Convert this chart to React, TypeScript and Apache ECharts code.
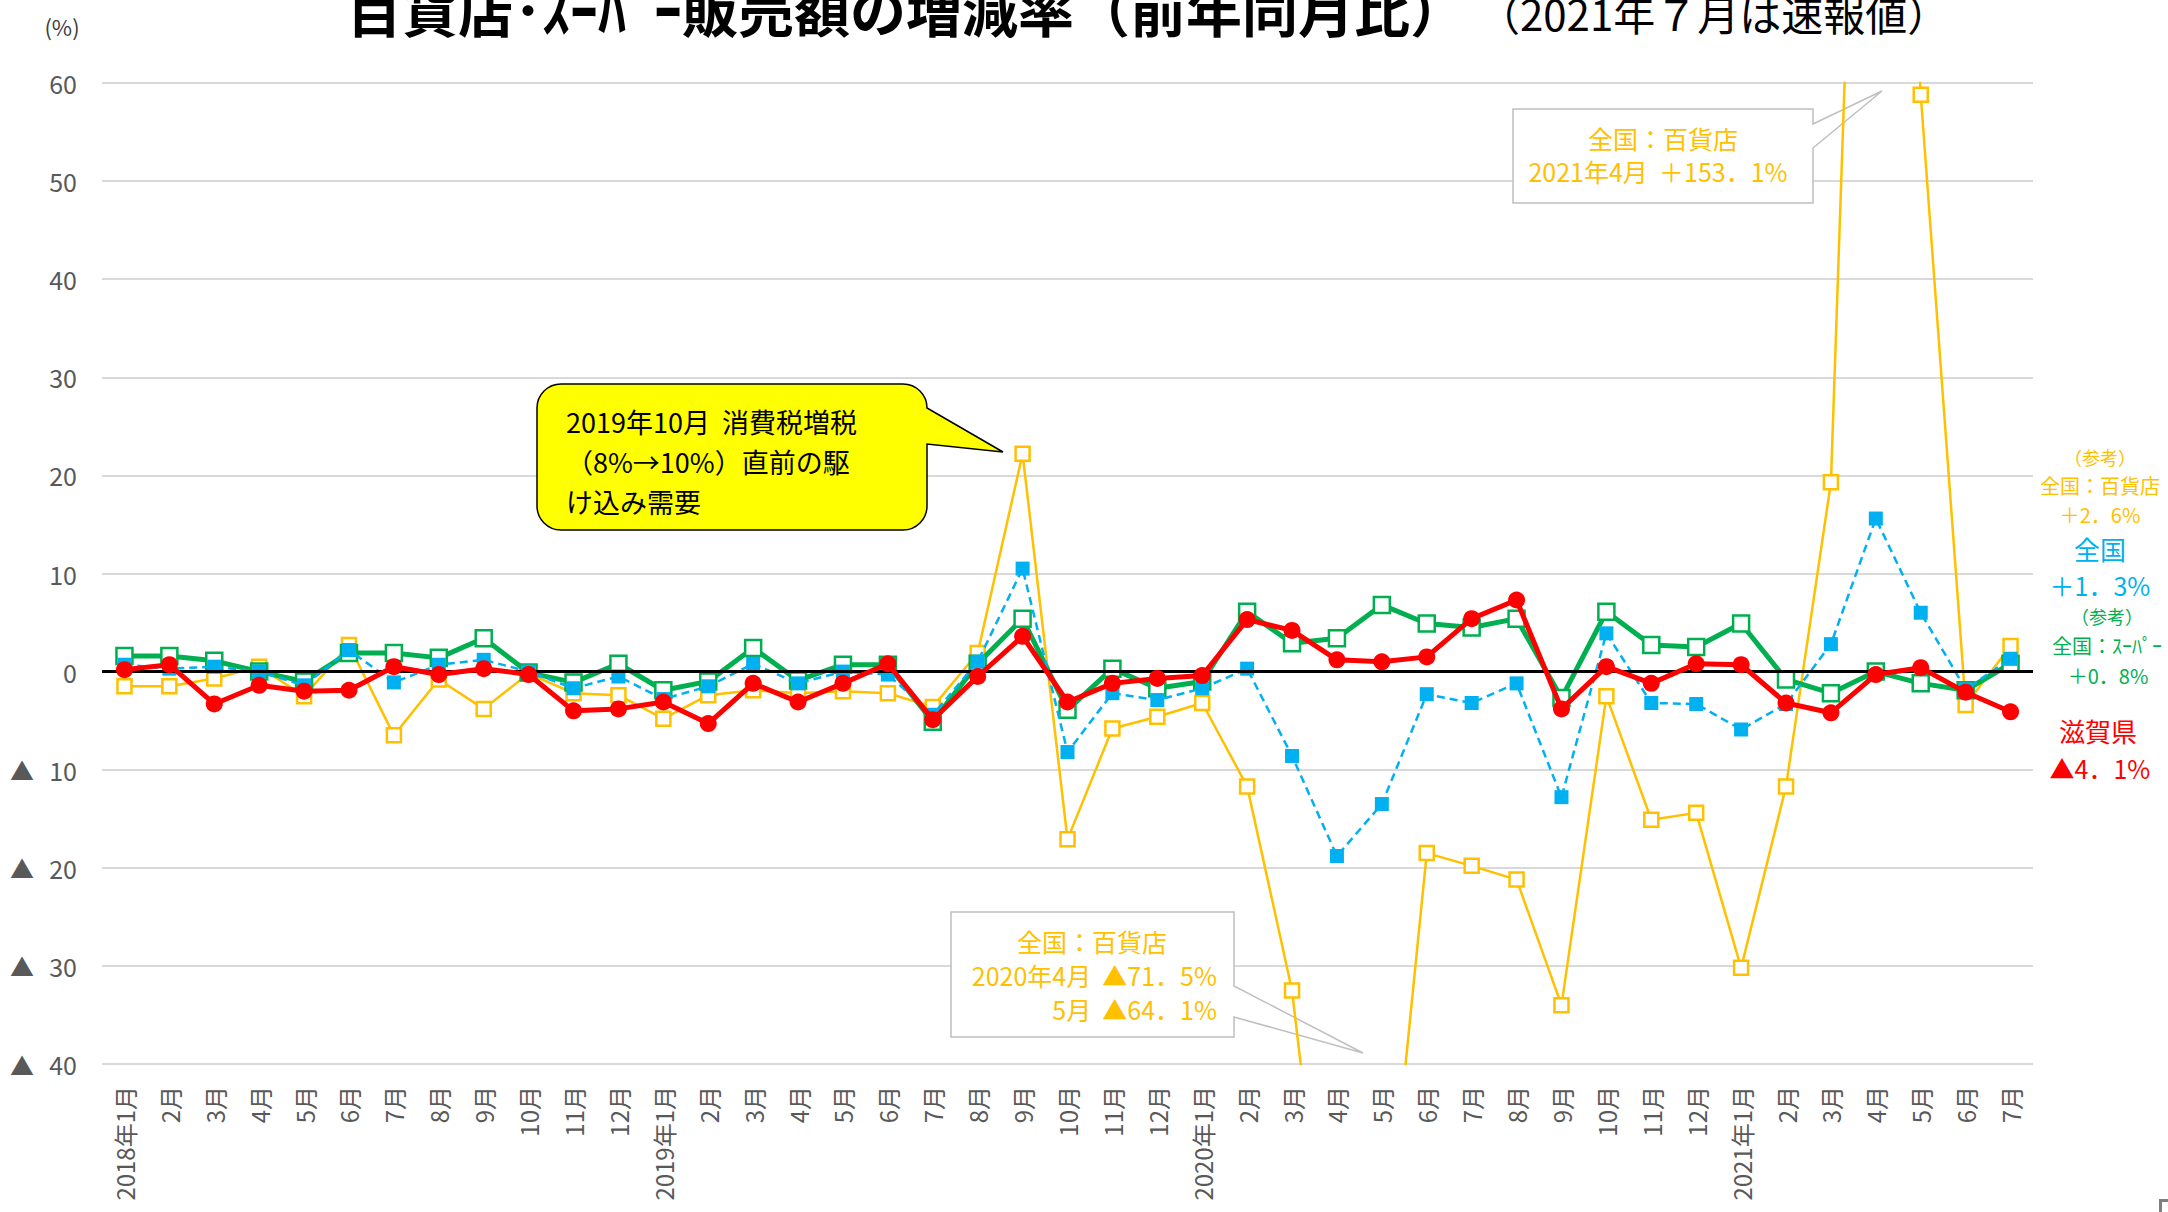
import React, { useEffect, useRef } from "react";
import * as echarts from "echarts";

// ---- data ----
const months = [
  "2018年1月", "2月", "3月", "4月", "5月", "6月", "7月", "8月", "9月", "10月", "11月", "12月",
  "2019年1月", "2月", "3月", "4月", "5月", "6月", "7月", "8月", "9月", "10月", "11月", "12月",
  "2020年1月", "2月", "3月", "4月", "5月", "6月", "7月", "8月", "9月", "10月", "11月", "12月",
  "2021年1月", "2月", "3月", "4月", "5月", "6月", "7月",
];

// 全国：百貨店 (参考)
const deptNational = [
  -1.5, -1.5, -0.7, 0.5, -2.5, 2.7, -6.5, -0.8, -3.8, -0.2, -2.2, -2.4,
  -4.8, -2.4, -1.9, -2.2, -2.0, -2.2, -3.6, 1.9, 22.2, -17.1, -5.8, -4.6,
  -3.2, -11.7, -32.5, -71.5, -64.1, -18.5, -19.8, -21.2, -34.0, -2.5, -15.1, -14.4,
  -30.2, -11.7, 19.3, 153.1, 58.8, -3.4, 2.6,
];

// 全国：スーパー (参考)
const superNational = [
  1.6, 1.6, 1.1, 0.0, -1.0, 1.9, 1.9, 1.4, 3.4, -0.1, -1.1, 0.8,
  -1.9, -1.0, 2.4, -0.9, 0.7, 0.7, -5.1, 0.8, 5.4, -3.9, 0.3, -1.7,
  -1.0, 6.1, 2.9, 3.4, 6.8, 4.9, 4.5, 5.4, -2.7, 6.1, 2.7, 2.5,
  4.9, -0.8, -2.2, 0.0, -1.2, -1.9, 0.8,
];

// 全国 (百貨店・スーパー)
const national = [
  0.7, 0.3, 0.5, 0.0, -1.4, 2.2, -1.1, 0.7, 1.2, 0.0, -1.7, -0.5,
  -2.8, -1.5, 0.8, -1.2, 0.0, -0.3, -4.4, 1.0, 10.5, -8.2, -2.2, -2.9,
  -1.7, 0.3, -8.6, -18.8, -13.5, -2.3, -3.2, -1.2, -12.8, 3.9, -3.2, -3.3,
  -5.9, -3.3, 2.8, 15.6, 6.0, -1.8, 1.3,
];

// 滋賀県
const shiga = [
  0.2, 0.7, -3.3, -1.4, -2.0, -1.9, 0.5, -0.3, 0.3, -0.3, -4.0, -3.8,
  -3.1, -5.3, -1.2, -3.1, -1.2, 0.8, -4.9, -0.5, 3.6, -3.1, -1.2, -0.7,
  -0.4, 5.3, 4.2, 1.2, 1.0, 1.5, 5.4, 7.3, -3.8, 0.5, -1.2, 0.8,
  0.7, -3.2, -4.2, -0.3, 0.4, -2.1, -4.1,
];

const yMin = -40;
const yMax = 60;
const yStep = 10;

const ORANGE = "#FFC000";
const BLUE = "#00B0F0";
const GREEN = "#00B050";
const RED = "#FF0000";
const GRAY = "#595959";
const CJK = "'Noto Sans CJK JP', sans-serif";
const NARROW = "'Liberation Sans Narrow', 'Arial Narrow', 'Noto Sans CJK JP', sans-serif";

// callout outlines (SVG paths)
const dYellow =
  "M561 384 H903 A24 24 0 0 1 927 408 L1003 452 L927 444 V506 A24 24 0 0 1 903 530 H561 A24 24 0 0 1 537 506 V408 A24 24 0 0 1 561 384 Z";
const dTop = "M1513 109 H1813 V124 L1882 91 L1813 148 V203 H1513 Z";
const dBottom = "M951 912 H1234 V986 L1363 1053 L1234 1017 V1037 H951 Z";

echarts.graphic.registerShape("calloutYellow", echarts.graphic.extendPath(dYellow, {}));
echarts.graphic.registerShape("calloutTop", echarts.graphic.extendPath(dTop, {}));
echarts.graphic.registerShape("calloutBottom", echarts.graphic.extendPath(dBottom, {}));

function txt(
  text: string,
  x: number,
  y: number,
  size: number,
  color: string,
  align: string = "center",
  extra: any = {}
) {
  return {
    type: "text",
    x,
    y,
    z: 10,
    style: {
      text,
      fill: color,
      fontSize: size,
      fontFamily: CJK,
      align,
      textAlign: align,
      verticalAlign: "middle",
      textVerticalAlign: "middle",
      ...extra,
    },
  };
}

export default function App() {
  const ref = useRef<HTMLDivElement>(null);

  useEffect(() => {
    if (!ref.current) return;
    const chart = echarts.init(ref.current, null, { renderer: "svg" });

    const option: any = {
      animation: false,
      backgroundColor: "#fff",
      textStyle: { fontFamily: CJK },
      grid: { left: 102, right: 135, top: 83, bottom: 148, containLabel: false },
      xAxis: {
        type: "category",
        data: months,
        boundaryGap: true,
        axisLine: { show: false, onZero: false },
        axisTick: { show: false },
        splitLine: { show: false },
        axisLabel: {
          interval: 0,
          rotate: 90,
          margin: 22,
          fontSize: 24,
          color: GRAY,
          fontFamily: CJK,
        },
      },
      yAxis: {
        type: "value",
        min: yMin,
        max: yMax,
        interval: yStep,
        axisLine: { show: false },
        axisTick: { show: false },
        splitLine: { show: true, lineStyle: { color: "#D9D9D9", width: 2 } },
        axisLabel: {
          margin: 25,
          formatter: (v: number) =>
            v < 0 ? `{t|▲}{n|${Math.abs(v)}}` : `{n|${v}}`,
          rich: {
            t: { width: 27, align: "left", fontSize: 24, color: GRAY, fontFamily: CJK },
            n: { width: 40, align: "right", fontSize: 25, color: GRAY, fontFamily: NARROW },
          },
        },
      },
      series: [
        {
          name: "全国：百貨店",
          type: "line",
          data: deptNational,
          clip: true,
          symbol: "rect",
          symbolSize: 14,
          lineStyle: { color: ORANGE, width: 2.5 },
          itemStyle: { color: "#fff", borderColor: ORANGE, borderWidth: 2.5 },
          z: 2,
          markLine: {
            silent: true,
            symbol: "none",
            label: { show: false },
            lineStyle: { color: "#000", width: 3, type: "solid" },
            data: [{ yAxis: 0 }],
          },
        },
        {
          name: "全国：スーパー",
          type: "line",
          data: superNational,
          symbol: "rect",
          symbolSize: 16,
          lineStyle: { color: GREEN, width: 5 },
          itemStyle: { color: "#fff", borderColor: GREEN, borderWidth: 2.5 },
          z: 3,
        },
        {
          name: "全国",
          type: "line",
          data: national,
          symbol: "rect",
          symbolSize: 14,
          lineStyle: { color: BLUE, width: 2.5, type: [8, 5] },
          itemStyle: { color: BLUE },
          z: 4,
        },
        {
          name: "滋賀県",
          type: "line",
          data: shiga,
          symbol: "circle",
          symbolSize: 17,
          lineStyle: { color: RED, width: 5 },
          itemStyle: { color: RED },
          z: 5,
        },
      ],
      graphic: [
        // title
        txt("百貨店･ｽｰﾊﾟｰ販売額の増減率（前年同月比）", 346, 7, 56, "#000", "left", { fontWeight: "bold" }),
        txt("（2021年７月は速報値）", 1478, 12, 42, "#000", "left"),
        txt("(%)", 62, 26, 22, "#404040", "center", { fontFamily: NARROW }),
        // yellow callout
        {
          type: "calloutYellow",
          x: 0,
          y: 0,
          scaleX: 1,
          scaleY: 1,
          z: 1,
          style: { fill: "#FFFF00", stroke: "#000", lineWidth: 1.5 },
        },
        txt("2019年10月  消費税増税", 566, 421, 27, "#000", "left"),
        txt("（8%→10%）直前の駆", 566, 461, 27, "#000", "left"),
        txt("け込み需要", 566, 501, 27, "#000", "left"),
        // top callout
        {
          type: "calloutTop",
          x: 0,
          y: 0,
          scaleX: 1,
          scaleY: 1,
          z: 1,
          style: { fill: "#fff", stroke: "#BFBFBF", lineWidth: 1.5 },
        },
        txt("全国：百貨店", 1663, 138, 25, ORANGE),
        txt("2021年4月  ＋153．1%", 1658, 171, 25, ORANGE),
        // bottom callout
        {
          type: "calloutBottom",
          x: 0,
          y: 0,
          scaleX: 1,
          scaleY: 1,
          z: 1,
          style: { fill: "#fff", stroke: "#BFBFBF", lineWidth: 1.5 },
        },
        txt("全国：百貨店", 1092, 941, 25, ORANGE),
        txt("2020年4月  ▲71．5%", 1217, 975, 25, ORANGE, "right"),
        txt("5月  ▲64．1%", 1217, 1009, 25, ORANGE, "right"),
        // right-side labels
        txt("（参考）", 2100, 457, 18, ORANGE),
        txt("全国：百貨店", 2100, 485, 20, ORANGE),
        txt("＋2．6%", 2100, 514, 20, ORANGE),
        txt("全国", 2100, 548, 26, BLUE),
        txt("＋1．3%", 2100, 585, 25, BLUE),
        txt("（参考）", 2107, 616, 18, GREEN),
        txt("全国：ｽｰﾊﾟｰ", 2107, 645, 20, GREEN),
        txt("＋0．8%", 2108, 675, 20, GREEN),
        txt("滋賀県", 2098, 730, 26, RED),
        txt("▲4．1%", 2100, 768, 25, RED),
        // corner fragment
        { type: "rect", z: 1, shape: { x: 2159, y: 1199, width: 9, height: 3 }, style: { fill: "#808080" } },
        { type: "rect", z: 1, shape: { x: 2159, y: 1199, width: 3, height: 13 }, style: { fill: "#808080" } },
      ],
    };

    chart.setOption(option);
    return () => {
      chart.dispose();
    };
  }, []);

  return (
    <div
      ref={ref}
      style={{ position: "fixed", left: 0, top: 0, width: 2168, height: 1212, background: "#fff" }}
    />
  );
}
